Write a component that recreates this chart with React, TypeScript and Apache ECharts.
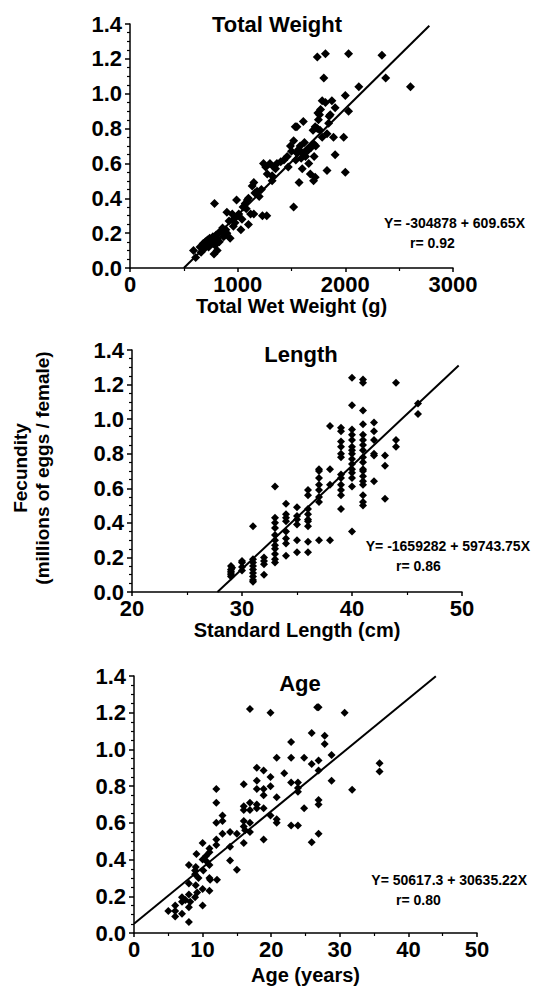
import React, { useEffect, useRef } from "react";
import * as echarts from "echarts";

// ---------- DATA ----------
const panelTitles = ["Total Weight", "Length", "Age"];
const xAxisNames = ["Total Wet Weight (g)", "Standard Length (cm)", "Age (years)"];
const yAxisName = ["Fecundity", "(millions of eggs / female)"];
const yTicks = [0, 0.2, 0.4, 0.6, 0.8, 1.0, 1.2, 1.4];
const xRanges = [
  [0, 3000, 1000],
  [20, 50, 10],
  [0, 50, 10],
];
// regression: Y (eggs) = intercept + slope * X, drawn between xStart and xEnd
const fitIntercepts = [-304878, -1659282, 50617.3];
const fitSlopes = [609.65, 59743.75, 30635.22];
const fitXStart = [500, 27.77, 0];
const fitXEnd = [2780, 49.7, 44];
const equationTexts = ["Y= -304878 + 609.65X", "Y= -1659282 + 59743.75X", "Y= 50617.3 + 30635.22X"];
const rTexts = ["r= 0.92", "r= 0.86", "r= 0.80"];

const weightPoints = [
  [590, 0.10], [610, 0.06], [650, 0.12], [660, 0.09], [680, 0.14], [690, 0.11], [700, 0.15], [710, 0.13],
  [720, 0.16], [730, 0.12], [740, 0.17], [750, 0.15], [760, 0.14], [770, 0.18], [780, 0.16], [790, 0.13],
  [800, 0.19], [810, 0.17], [820, 0.20], [830, 0.15], [840, 0.21], [780, 0.08], [810, 0.10], [785, 0.37],
  [870, 0.18], [890, 0.22], [900, 0.20], [930, 0.17], [900, 0.32], [950, 0.31], [960, 0.28], [975, 0.26],
  [990, 0.39], [1000, 0.30], [1010, 0.31], [1030, 0.22], [1050, 0.35], [1070, 0.37], [1090, 0.39], [1100, 0.25],
  [1120, 0.31], [1135, 0.47], [1150, 0.49], [1150, 0.31], [1160, 0.43], [1180, 0.44], [1200, 0.41], [1230, 0.30],
  [1240, 0.60], [1260, 0.58], [1270, 0.30], [1275, 0.54], [1320, 0.53], [1335, 0.58], [1365, 0.60], [1400, 0.61],
  [1430, 0.62], [1460, 0.64], [1490, 0.70], [1520, 0.73], [1535, 0.81], [1550, 0.81], [1520, 0.35], [1550, 0.66],
  [1565, 0.68], [1570, 0.49], [1580, 0.70], [1600, 0.57], [1600, 0.66], [1610, 0.84], [1630, 0.64], [1645, 0.67],
  [1675, 0.54], [1680, 0.69], [1705, 0.50], [1710, 0.64], [1710, 0.71], [1720, 0.52], [1725, 0.70], [1700, 0.79],
  [1720, 0.81], [1740, 0.80], [1765, 0.79], [1745, 0.89], [1770, 0.91], [1785, 0.96], [1815, 0.95], [1740, 1.21],
  [1815, 1.23], [1800, 1.09], [1830, 0.56], [1830, 0.77], [1845, 0.83], [1850, 0.87], [1860, 0.88], [1875, 0.96],
  [1905, 0.92], [1890, 0.75], [1905, 0.65], [1985, 0.75], [2000, 0.55], [2000, 0.99], [2030, 0.90], [2030, 1.23],
  [2125, 1.04], [2340, 1.22], [2375, 1.09], [2605, 1.04], [1785, 0.75], [1760, 0.88], [1660, 0.60], [1470, 0.58],
  [1320, 0.50], [1220, 0.45], [1100, 0.40], [1080, 0.34], [1040, 0.28], [960, 0.24], [920, 0.27], [880, 0.19],
  [860, 0.23], [1300, 0.60], [1352, 0.57], [1500, 0.67], [1540, 0.62], [1590, 0.63], [1620, 0.72], [1750, 0.85],
];

const lengthPoints = [
  [29, 0.15], [29, 0.13], [29, 0.11], [29, 0.10], [29, 0.09], [29, 0.12], [29.1, 0.14],
  [30, 0.18], [30, 0.17], [30, 0.145], [30, 0.125],
  [31, 0.38], [31, 0.19], [31, 0.17], [31, 0.15], [31, 0.13], [31, 0.11], [31, 0.09], [31, 0.07], [31, 0.06],
  [32, 0.20], [32, 0.18], [32, 0.16], [32, 0.10],
  [33, 0.61], [33, 0.43], [33, 0.40], [33, 0.37], [33, 0.33], [33, 0.30], [33, 0.27], [33, 0.25], [33, 0.22], [33, 0.19], [33, 0.17],
  [34, 0.51], [34, 0.45], [34, 0.43], [34, 0.41], [34, 0.35], [34, 0.31], [34, 0.28], [34, 0.21],
  [35, 0.49], [35, 0.44], [35, 0.42], [35, 0.39], [35, 0.30], [35, 0.23],
  [36, 0.59], [36, 0.56], [36, 0.48], [36, 0.45], [36, 0.42], [36, 0.41], [36, 0.38], [36, 0.29], [36, 0.23],
  [37, 0.71], [37, 0.70], [37, 0.66], [37, 0.62], [37, 0.59], [37, 0.55], [37, 0.52], [37, 0.30],
  [38, 0.96], [38, 0.71], [38, 0.62], [38, 0.30],
  [39, 0.95], [39, 0.93], [39, 0.87], [39, 0.84], [39, 0.80], [39, 0.78], [39, 0.68], [39, 0.66], [39, 0.62], [39, 0.59], [39, 0.56], [39, 0.48],
  [40, 1.24], [40, 1.08], [40, 0.94], [40, 0.91], [40, 0.88], [40, 0.84], [40, 0.82], [40, 0.80], [40, 0.77], [40, 0.74],
  [40, 0.71], [40, 0.69], [40, 0.66], [40, 0.61], [40, 0.35],
  [41, 1.23], [41, 1.21], [41, 1.05], [41, 0.97], [41, 0.91], [41, 0.88], [41, 0.85], [41, 0.82], [41, 0.78], [41, 0.75],
  [41, 0.71], [41, 0.70], [41, 0.67], [41, 0.64], [41, 0.62], [41, 0.56], [41, 0.52], [41, 0.50],
  [42, 0.98], [42, 0.93], [42, 0.88], [42, 0.80], [42, 0.79], [42, 0.64],
  [43, 0.79], [43, 0.73], [43, 0.54],
  [44, 1.21], [44, 0.88], [44, 0.84],
  [46, 1.09], [46, 1.03],
];

const agePoints = [
  [5, 0.12], [6, 0.15], [6, 0.09], [6, 0.12], [7, 0.105], [7, 0.195], [7, 0.17], [7.5, 0.18],
  [8, 0.06], [8, 0.21], [8, 0.27], [8, 0.37], [8, 0.14], [8.2, 0.17], [8.9, 0.195], [8.9, 0.32],
  [8.9, 0.34], [9, 0.36], [9.1, 0.43], [9.4, 0.30], [9, 0.26], [9.2, 0.22],
  [10, 0.49], [10, 0.40], [10, 0.24], [10, 0.15], [10.1, 0.34], [10.5, 0.42], [10.6, 0.39],
  [11, 0.46], [11, 0.44], [11, 0.37], [11, 0.30], [11, 0.23], [11.1, 0.29],
  [12, 0.785], [12, 0.71], [12, 0.60], [12, 0.51], [12, 0.48], [12.1, 0.29],
  [12.9, 0.64], [12.9, 0.61], [12.9, 0.54],
  [14, 0.55], [14, 0.47], [14, 0.395], [15, 0.345], [15, 0.54],
  [16, 0.81], [16, 0.69], [16, 0.67], [16, 0.61], [16, 0.58], [16, 0.49], [16.2, 0.56],
  [16.9, 1.22], [16.9, 0.71], [16.9, 0.67], [16.9, 0.60], [16.9, 0.55],
  [17.9, 0.90], [17.9, 0.83], [17.9, 0.785], [17.9, 0.70], [17.9, 0.68],
  [18.9, 0.885], [18.9, 0.785], [18.9, 0.75], [18.9, 0.68], [18.9, 0.51],
  [19.9, 1.20], [19.9, 0.85], [19.9, 0.80], [19.9, 0.64],
  [20.8, 0.955], [20.8, 0.74], [20.8, 0.62], [20.8, 0.60], [21.9, 0.87],
  [22.9, 1.04], [22.9, 0.955], [22.9, 0.82], [22.9, 0.585],
  [23.9, 0.585], [23.9, 0.82], [23.9, 0.79], [23.9, 0.77],
  [24.8, 0.955], [24.8, 0.68], [25.9, 1.09], [25.9, 0.92], [25.9, 0.495],
  [26.7, 1.23], [26.9, 1.23], [26.9, 0.94], [26.9, 0.885], [26.9, 0.725], [26.9, 0.70], [26.9, 0.54],
  [27.8, 1.075], [27.8, 1.03], [28.8, 0.97], [28.8, 0.83],
  [30.7, 1.20], [31.8, 0.78], [35.8, 0.925], [35.8, 0.88],
];

const panelPoints = [weightPoints, lengthPoints, agePoints];

// ---------- LAYOUT ----------
const FONT = "'Liberation Sans', Arial, Helvetica, sans-serif";
const grids = [
  { left: 130, top: 24, width: 323, height: 244 },
  { left: 132, top: 350, width: 330, height: 242 },
  { left: 134, top: 676, width: 343, height: 257 },
];
const nameGaps = [27, 28, 32];
const symbolSizes = [9, 8, 8];
const titlePos = [[277, 24], [301, 354], [300, 683]];
const eqPos = [[525, 223, 410, 243], [530, 546, 396, 566], [527, 880, 396, 900]];

function txt(text: string, x: number, y: number, size: number, align: string, rotation = 0) {
  return {
    type: "text",
    x,
    y,
    rotation,
    style: {
      text,
      fill: "#000",
      fontSize: size,
      fontWeight: "bold",
      fontFamily: FONT,
      textAlign: align,
      align,
      textVerticalAlign: "middle",
      verticalAlign: "middle",
    },
  };
}

export default function App() {
  const ref = useRef<HTMLDivElement>(null);
  useEffect(() => {
    if (!ref.current) return;
    const chart = echarts.init(ref.current, undefined, { renderer: "svg" });
    const axisLine = { show: true, onZero: false, lineStyle: { color: "#000", width: 1.5 } };
    const labelStyle = { color: "#000", fontSize: 22, fontWeight: "bold", fontFamily: FONT };

    const xAxis = xRanges.map((r, i) => ({
      gridIndex: i,
      type: "value",
      min: r[0],
      max: r[1],
      interval: r[2],
      name: xAxisNames[i],
      nameLocation: "middle",
      nameGap: nameGaps[i],
      nameTextStyle: { color: "#000", fontSize: 20, fontWeight: "bold", fontFamily: FONT },
      axisLine,
      axisTick: { show: true, length: 4, lineStyle: { color: "#000", width: 1.5 } },
      minorTick: { show: true, splitNumber: 2, length: 3, lineStyle: { color: "#000", width: 1.2 } },
      splitLine: { show: false },
      axisLabel: { ...labelStyle, margin: 5, formatter: (v: number) => String(v) },
    }));
    const yAxis = grids.map((_, i) => ({
      gridIndex: i,
      type: "value",
      min: yTicks[0],
      max: yTicks[yTicks.length - 1],
      interval: 0.2,
      axisLine,
      axisTick: { show: true, length: 5, lineStyle: { color: "#000", width: 1.5 } },
      minorTick: { show: true, splitNumber: 4, length: 3, lineStyle: { color: "#000", width: 1.2 } },
      splitLine: { show: false },
      axisLabel: { ...labelStyle, margin: 8, formatter: (v: number) => v.toFixed(1) },
    }));

    const series: any[] = [];
    panelPoints.forEach((pts, i) => {
      series.push({
        type: "scatter",
        xAxisIndex: i,
        yAxisIndex: i,
        symbol: "diamond",
        symbolSize: symbolSizes[i],
        itemStyle: { color: "#000", opacity: 1 },
        data: pts,
      });
      const f = (x: number) => (fitIntercepts[i] + fitSlopes[i] * x) / 1e6;
      series.push({
        type: "line",
        xAxisIndex: i,
        yAxisIndex: i,
        showSymbol: false,
        symbol: "none",
        lineStyle: { color: "#000", width: 2 },
        data: [
          [fitXStart[i], f(fitXStart[i])],
          [fitXEnd[i], f(fitXEnd[i])],
        ],
      });
    });

    const graphic: any[] = [];
    panelTitles.forEach((t, i) => graphic.push(txt(t, titlePos[i][0], titlePos[i][1], 22, "center")));
    equationTexts.forEach((t, i) => {
      graphic.push(txt(t, eqPos[i][0], eqPos[i][1], 14, "right"));
      graphic.push(txt(rTexts[i], eqPos[i][2], eqPos[i][3], 14, "left"));
    });
    graphic.push(txt(yAxisName[0], 20, 468, 19, "center", Math.PI / 2));
    graphic.push(txt(yAxisName[1], 42, 468, 19, "center", Math.PI / 2));

    chart.setOption({
      animation: false,
      backgroundColor: "#fff",
      grid: grids,
      xAxis,
      yAxis,
      series,
      graphic,
    });
    return () => chart.dispose();
  }, []);
  return (
    <div
      ref={ref}
      style={{ position: "absolute", left: 0, top: 0, width: 536, height: 987 }}
    />
  );
}
